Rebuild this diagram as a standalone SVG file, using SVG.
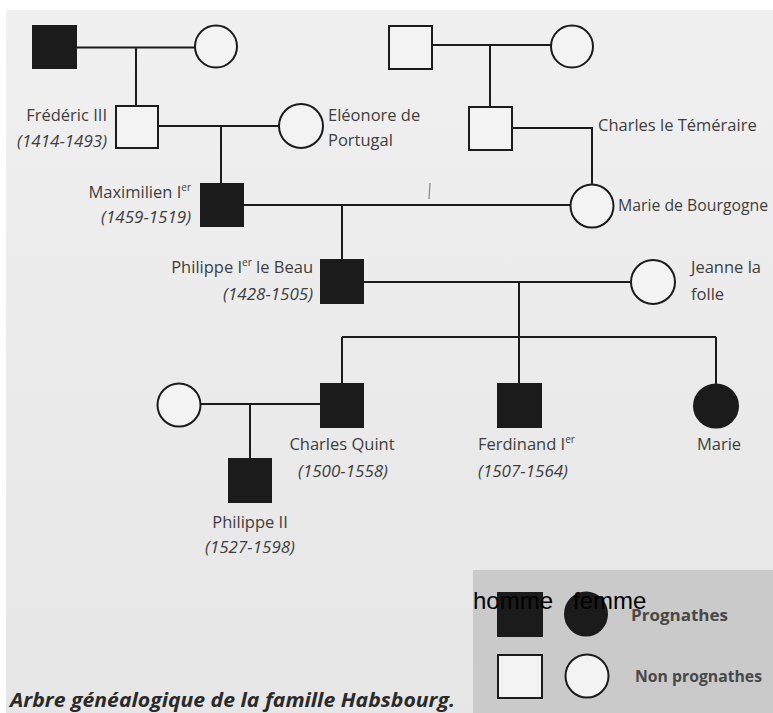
<svg xmlns="http://www.w3.org/2000/svg" width="773" height="713" viewBox="0 0 773 713">
<defs>
<linearGradient id="bg" x1="0" y1="0" x2="0" y2="1">
<stop offset="0" stop-color="#f0f0f0"/>
<stop offset="1" stop-color="#e6e6e6"/>
</linearGradient>
</defs>
<style>
.lbl{font-family:"Open Sans","Liberation Sans",sans-serif;font-size:16.5px;fill:#3e3e3e}
.date{font-family:"Open Sans","Liberation Sans",sans-serif;font-size:17px;font-style:italic;fill:#3e3e3e}
.sup{font-size:10px}
.full{fill:#1b1b1b;stroke:#1b1b1b;stroke-width:2}
.empty{fill:#f3f3f3;stroke:#1b1b1b;stroke-width:2}
.conn{fill:none;stroke:#1b1b1b;stroke-width:2}
.leg{font-family:"Open Sans","Liberation Sans",sans-serif;font-size:16px;font-weight:bold;fill:#484848}
</style>
<rect x="0" y="0" width="773" height="713" fill="#ffffff"/>
<rect x="6" y="10" width="767" height="703" fill="url(#bg)"/>

<g id="connectors">
<path class="conn" d="M77,47.5 H195 M136,47.5 V105"/>
<path class="conn" d="M432,45 H551 M490,45 V107"/>
<path class="conn" d="M158,126 H279 M221,126 V183"/>
<path class="conn" d="M512,128 H592 V185"/>
<path class="conn" d="M243,205 H571 M342,205 V259"/>
<path class="conn" d="M363,282 H631 M519,282 V383"/>
<path class="conn" d="M342,337 H716 M342,337 V383 M716,337 V384"/>
<path class="conn" d="M201,404 H320 M250,404 V458"/>
<path d="M430,183 L429,199" stroke="#8a8a8a" stroke-width="1.2" fill="none"/>
</g>

<g id="gen1-father-left"><rect class="full" x="33" y="26" width="43" height="42"/></g>
<g id="gen1-mother-left"><circle class="empty" cx="216" cy="46.5" r="21"/></g>
<g id="gen1-father-right"><rect class="empty" x="389" y="26" width="43" height="43"/></g>
<g id="gen1-mother-right"><circle class="empty" cx="572" cy="46.5" r="21"/></g>

<g id="frederic">
<rect class="empty" x="116" y="106" width="42" height="42"/>
<text class="lbl" x="107" y="121" text-anchor="end">Frédéric III</text>
<text class="date" x="107" y="147" text-anchor="end">(1414-1493)</text>
</g>
<g id="eleonore">
<circle class="empty" cx="301" cy="126" r="22"/>
<text class="lbl" x="328" y="121">Eléonore de</text>
<text class="lbl" x="328" y="146">Portugal</text>
</g>
<g id="charles-temeraire">
<rect class="empty" x="469" y="107" width="43" height="43"/>
<text class="lbl" x="598" y="131">Charles le Téméraire</text>
</g>
<g id="maximilien">
<rect class="full" x="201" y="184" width="42" height="42"/>
<text class="lbl" x="191" y="198" text-anchor="end">Maximilien I<tspan class="sup" dy="-7">er</tspan></text>
<text class="date" x="191" y="223" text-anchor="end">(1459-1519)</text>
</g>
<g id="marie-bourgogne">
<circle class="empty" cx="592" cy="206" r="21.5"/>
<text class="lbl" x="618" y="211" style="font-size:15.8px">Marie de Bourgogne</text>
</g>
<g id="philippe-1">
<rect class="full" x="321" y="260" width="42" height="43"/>
<text class="lbl" x="313" y="273" text-anchor="end">Philippe I<tspan class="sup" dy="-7">er</tspan><tspan dy="7"> le Beau</tspan></text>
<text class="date" x="313" y="300" text-anchor="end">(1428-1505)</text>
</g>
<g id="jeanne">
<circle class="empty" cx="653" cy="282" r="22"/>
<text class="lbl" x="691" y="273">Jeanne la</text>
<text class="lbl" x="691" y="300">folle</text>
</g>
<g id="epouse-charles-quint">
<circle class="empty" cx="179" cy="405" r="21.5"/>
</g>
<g id="charles-quint">
<rect class="full" x="321" y="384" width="42" height="43"/>
<text class="lbl" x="342" y="450" text-anchor="middle">Charles Quint</text>
<text class="date" x="343" y="477" text-anchor="middle">(1500-1558)</text>
</g>
<g id="ferdinand">
<rect class="full" x="498" y="384" width="43" height="43"/>
<text class="lbl" x="478" y="450">Ferdinand I<tspan class="sup" dy="-7">er</tspan></text>
<text class="date" x="523" y="477" text-anchor="middle">(1507-1564)</text>
</g>
<g id="marie">
<ellipse class="full" cx="716" cy="406" rx="22" ry="21.5"/>
<text class="lbl" x="719" y="450" text-anchor="middle">Marie</text>
</g>
<g id="philippe-2">
<rect class="full" x="229" y="459" width="42" height="43"/>
<text class="lbl" x="250" y="528" text-anchor="middle">Philippe II</text>
<text class="date" x="250" y="553" text-anchor="middle">(1527-1598)</text>
</g>

<g id="legende">
<rect x="473" y="570" width="300" height="143" fill="#cacaca"/>
<rect class="full" x="498" y="593" width="44" height="43"/>
<ellipse class="full" cx="586" cy="614" rx="21" ry="21.5"/>
<rect class="empty" x="498" y="655" width="44" height="43"/>
<circle class="empty" cx="587" cy="676" r="21.5"/>
<text class="leg" x="631" y="621" textLength="97" lengthAdjust="spacingAndGlyphs">Prognathes</text>
<text class="leg" x="635" y="682" textLength="127" lengthAdjust="spacingAndGlyphs">Non prognathes</text>
<text font-family="Liberation Sans, Arial, sans-serif" font-size="24" fill="#000000" y="609"><tspan x="473">homme</tspan><tspan x="573">femme</tspan></text>
</g>

<g id="legende-titre">
<text x="10" y="707" font-family="Open Sans, Liberation Sans, sans-serif" font-size="19" font-weight="bold" font-style="italic" fill="#2a2a2a" textLength="445" lengthAdjust="spacingAndGlyphs">Arbre généalogique de la famille Habsbourg.</text>
</g>
</svg>
